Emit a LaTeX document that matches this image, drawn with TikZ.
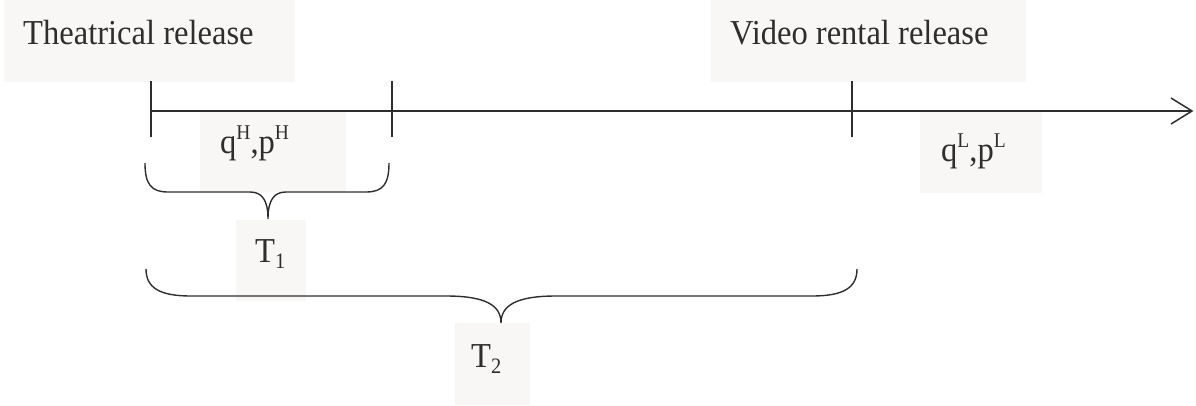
\documentclass[tikz,border=0pt]{standalone}
\usepackage{fontspec}
\setmainfont{Liberation Serif}[FakeStretch=0.93]
\definecolor{boxfill}{HTML}{F8F7F5}
\definecolor{ink}{HTML}{2E2E2E}
\newcommand\mysup[1]{\raisebox{14pt}{\fontsize{21}{21}\selectfont #1}}
\newcommand\mysub[1]{\raisebox{-6pt}{\fontsize{22}{22}\selectfont #1}}
\begin{document}
\begin{tikzpicture}[x=1pt,y=-1pt,
  box/.style={fill=boxfill, draw=none, inner sep=0, outer sep=0, anchor=north west},
  lbl/.style={text=ink, inner sep=0, anchor=base west, font=\fontsize{35}{42}\selectfont},
  ln/.style={draw=ink, line width=1.5pt},
  brace/.style={draw=ink, line width=1.4pt},
]
\useasboundingbox (0,0) rectangle (1196,405);
% background boxes
\node[box, minimum width=291pt, minimum height=82pt] (thbox) at (4,0) {};
\node[box, minimum width=315pt, minimum height=82pt] (vrbox) at (711,0) {};
\node[box, minimum width=146pt, minimum height=80pt] (qhbox) at (200,112) {};
\node[box, minimum width=122pt, minimum height=81pt] (qlbox) at (920,112) {};
\node[box, minimum width=70pt, minimum height=81pt] (t1box) at (236,220) {};
\node[box, minimum width=75pt, minimum height=82pt] (t2box) at (455,323) {};
% labels
\node[lbl] (th) at (23,44) {Theatrical release};
\node[lbl] (vr) at (730,44) {Video rental release};
\node[lbl] (qh) at (220,153) {q\mysup{H},p\mysup{H}};
\node[lbl] (ql) at (941,161) {q\mysup{L},p\mysup{L}};
\node[lbl] (t1) at (255,262) {T\mysub{1}};
\node[lbl] (t2) at (471,367) {T\mysub{2}};
% axis
\coordinate (a0) at (151,111);
\coordinate (aend) at (1192,111);
\coordinate (ah1) at (1171,98);
\coordinate (ah2) at (1171,124);
\draw[ln] (a0) -- (aend);
\draw[ln, line join=miter] (ah1) -- (aend) -- (ah2);
% ticks
\coordinate (k1t) at (151,81);  \coordinate (k1b) at (151,137);
\coordinate (k2t) at (392,81);  \coordinate (k2b) at (392,137);
\coordinate (k3t) at (852,81);  \coordinate (k3b) at (852,137);
\draw[ln] (k1t) -- (k1b);
\draw[ln] (k2t) -- (k2b);
\draw[ln] (k3t) -- (k3b);
% brace 1
\coordinate (b1l) at (145,163);
\coordinate (b1m) at (268,219);
\coordinate (b1r) at (389,163);
\draw[brace] (b1l) .. controls (145,184) and (151,192) .. (168,192) -- (250,192)
  .. controls (262,192) and (268,200) .. (b1m)
  .. controls (268,200) and (274,192) .. (286,192) -- (366,192)
  .. controls (383,192) and (389,184) .. (b1r);
% brace 2
\coordinate (b2l) at (146,269);
\coordinate (b2m) at (501,323);
\coordinate (b2r) at (857,269);
\draw[brace] (b2l) .. controls (146,288) and (160,296) .. (191,296) -- (446,296)
  .. controls (485,296) and (501,305) .. (b2m)
  .. controls (501,305) and (517,296) .. (556,296) -- (812,296)
  .. controls (843,296) and (857,288) .. (b2r);
\end{tikzpicture}
\end{document}
